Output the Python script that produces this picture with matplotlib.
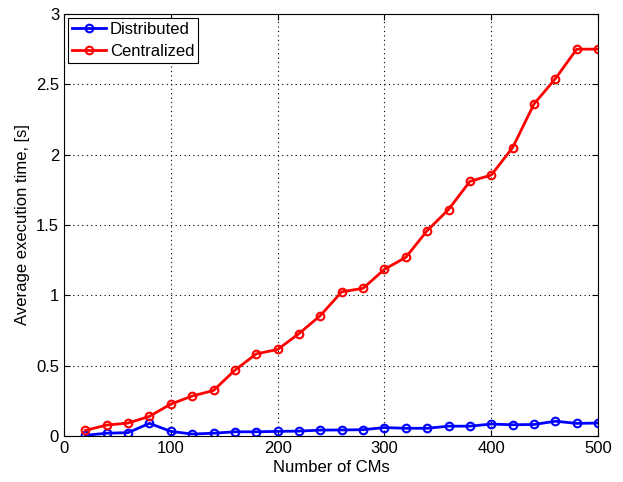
import matplotlib
matplotlib.use('Agg')
import matplotlib.pyplot as plt

plt.rcParams['font.family'] = ['Liberation Sans', 'DejaVu Sans']

# number of CMs
num_cms = [20, 40, 60, 80, 100, 120, 140, 160, 180, 200, 220, 240, 260,
           280, 300, 320, 340, 360, 380, 400, 420, 440, 460, 480, 500]

distributed = [0.005, 0.02, 0.024, 0.09, 0.033, 0.014, 0.02, 0.03, 0.03, 0.033,
               0.035, 0.042, 0.043, 0.045, 0.06, 0.055, 0.055, 0.07, 0.07, 0.085,
               0.08, 0.082, 0.105, 0.09, 0.092]

centralized = [0.04, 0.078, 0.092, 0.14, 0.227, 0.284, 0.324, 0.468, 0.584, 0.615,
               0.728, 0.856, 1.025, 1.05, 1.185, 1.27, 1.46, 1.61, 1.81, 1.855,
               2.05, 2.36, 2.54, 2.75, 2.75]

fig = plt.figure(figsize=(6.23, 4.82), dpi=100)
ax = fig.add_axes([0.1027, 0.0954, 0.8573, 0.8756])

ax.plot(num_cms, distributed, color='blue', lw=2, marker='o', ms=5.5,
        mfc='none', mew=1.5, label='Distributed')
ax.plot(num_cms, centralized, color='red', lw=2, marker='o', ms=5.5,
        mfc='none', mew=1.5, label='Centralized')

ax.set_xlim(0, 500)
ax.set_ylim(0, 3)
ax.set_xticks([0, 100, 200, 300, 400, 500])
ax.set_yticks([0, 0.5, 1, 1.5, 2, 2.5, 3])
ax.set_yticklabels(['0', '0.5', '1', '1.5', '2', '2.5', '3'])
ax.tick_params(direction='in', labelsize=12, length=4, top=True, right=True)
ax.grid(True, color='black', linestyle=(0, (1, 3)), linewidth=0.8)
ax.set_xlabel('Number of CMs', fontsize=12, labelpad=3)
ax.set_ylabel('Average execution time, [s]', fontsize=12)

leg = ax.legend(loc='upper left', fontsize=12, fancybox=False, framealpha=1,
                edgecolor='black', borderaxespad=0.25, handlelength=2,
                handletextpad=0.25, borderpad=0.25, labelspacing=0.4)
leg.get_frame().set_linewidth(0.8)

fig.savefig('out.png', dpi=100)
